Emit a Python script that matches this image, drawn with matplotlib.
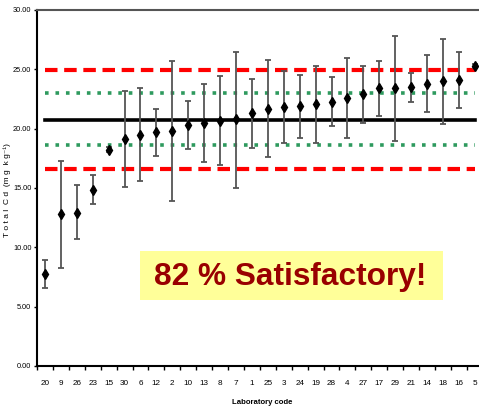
import matplotlib
matplotlib.use("Agg")
import matplotlib.pyplot as plt
from matplotlib.patches import Rectangle
from matplotlib import font_manager
import numpy as np

labs = ["20", "9", "26", "23", "15", "30", "6", "12", "2", "10", "13", "8", "7",
        "1", "25", "3", "24", "19", "28", "4", "27", "17", "29", "21", "14", "18", "16", "5"]
values = [7.75, 12.78, 12.92, 14.86, 18.2, 19.1, 19.49, 19.69, 19.78, 20.31, 20.48, 20.67, 20.78,
          21.29, 21.68, 21.8, 21.91, 22.05, 22.28, 22.61, 22.89, 23.4, 23.4, 23.48, 23.79, 23.99, 24.13, 25.31]
upper = [8.93, 17.3, 15.23, 16.07, 18.43, 23.17, 23.4, 21.68, 25.7, 22.3, 23.79, 24.44, 26.49,
         24.19, 25.79, 24.83, 24.52, 25.31, 24.32, 25.98, 25.25, 25.7, 27.84, 24.72, 26.17, 27.58, 26.46, 25.45]
lower = [6.57, 8.26, 10.7, 13.68, 18.03, 15.08, 15.59, 17.72, 13.88, 18.29, 17.22, 16.96, 15.03,
         18.4, 17.59, 18.77, 19.24, 18.82, 20.22, 19.21, 20.5, 21.07, 18.99, 22.28, 21.4, 20.42, 21.77, 25.15]

assigned = 20.77
green_lim = [22.97, 18.59]
red_lim = [24.92, 16.6]
yticks = [0, 5, 10, 15, 20, 25, 30]
banner = "82 % Satisfactory!"

names = {f.name for f in font_manager.fontManager.ttflist}
if "Liberation Sans Narrow" in names:
    fn = ["Liberation Sans Narrow", "DejaVu Sans"]
    fs = 6.8
else:
    fn = ["Liberation Sans", "DejaVu Sans"]
    fs = 5.6

W, H = 479, 409
fig = plt.figure(figsize=(W / 100, H / 100), dpi=100)
n = len(labs)
step = 15.92
ax = fig.add_axes([37 / W, 43 / H, n * step / W, 356 / H])

x = np.arange(n)
v = np.array(values)
yerr = np.vstack([v - np.array(lower), np.array(upper) - v])

ax.plot([x[0], x[-1]], [assigned, assigned], color="black", lw=2.6, zorder=2)
for g in green_lim:
    ax.plot([x[0], x[-1]], [g, g], color="#2e9a5e", lw=2.6, ls=(0, (1.0, 1.9)), zorder=2)
for r in red_lim:
    ax.plot([x[0], x[-1]], [r, r], color="#ff0000", lw=3.0, ls=(0, (3.0, 1.6)), zorder=2)

ax.errorbar(x, v, yerr=yerr, fmt="none", ecolor="#555555", elinewidth=1.3,
            capsize=2.5, capthick=1.3, zorder=3)
ax.plot(x, v, ls="none", marker="d", ms=5.5, color="black", zorder=4)

ax.set_xlim(-0.5, n - 0.5)
ax.set_ylim(0, 30)

ax.set_yticks(yticks)
ax.set_yticklabels([f"{t:.2f}" for t in yticks], fontsize=fs - 0.3, family=fn)
ax.tick_params(axis="y", direction="out", length=2.5, width=1, pad=1.5)

ax.set_xticks(np.arange(-0.5, n, 1.0))
ax.set_xticklabels([])
ax.set_xticks(x, minor=True)
ax.set_xticklabels(labs, minor=True, fontsize=fs + 0.3, family=fn)
ax.tick_params(axis="x", which="major", direction="out", length=3, width=1)
ax.tick_params(axis="x", which="minor", length=0, pad=10)

for s in ["left", "bottom"]:
    ax.spines[s].set_linewidth(1.5)
    ax.spines[s].set_color("black")
ax.spines["top"].set_color("#555555")
ax.spines["top"].set_linewidth(1.5)
ax.spines["right"].set_visible(False)

fig.text(262 / W, 1 - 402 / H, "Laboratory code", ha="center", va="center",
         fontsize=fs, fontweight="bold", family=fn)
fig.text(7 / W, 1 - 190 / H, "T o t a l  C d  (m g  k g\u207b\u00b9)", rotation=90,
         ha="center", va="center", fontsize=fs + 0.4, family=fn)

fig.patches.append(Rectangle((140 / W, 1 - 300 / H), (443 - 140) / W, (300 - 251) / H,
                             transform=fig.transFigure, facecolor="#ffff99",
                             edgecolor="none", zorder=5))
fig.text(290 / W, 1 - 277 / H, banner, ha="center", va="center", fontsize=22.8,
         fontweight="bold", color="#990000", family=["Liberation Sans", "DejaVu Sans"], zorder=6)

fig.savefig("out.png", dpi=100)
